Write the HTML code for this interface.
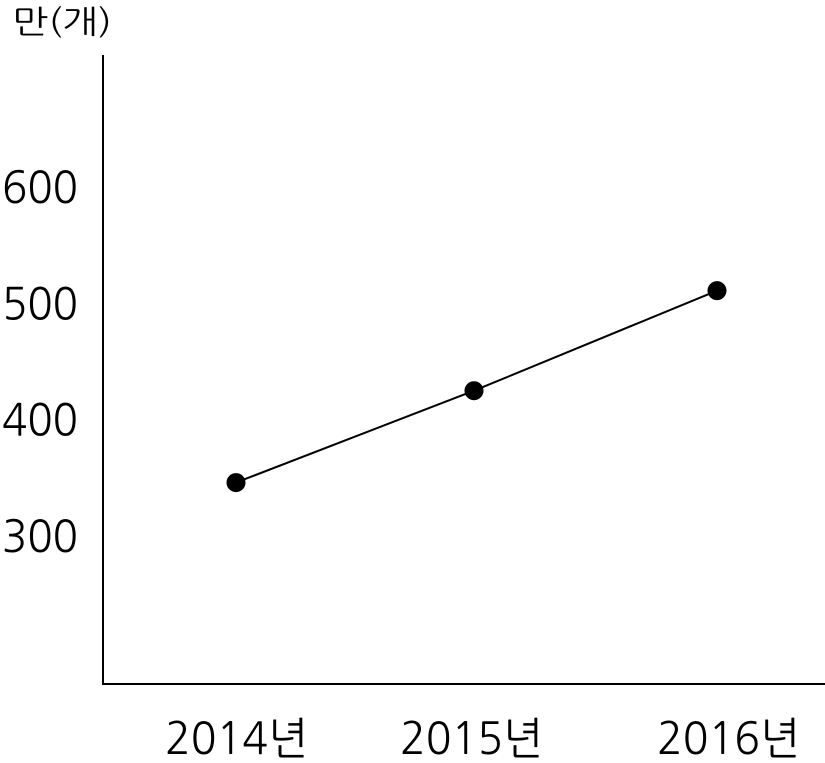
<!DOCTYPE html>
<html><head><meta charset="utf-8"><style>
html,body{margin:0;padding:0;background:#fff;}
svg text{font-family:"NanumGothic","Liberation Sans","Noto Sans CJK KR",sans-serif;fill:#000;}
</style></head><body>
<svg id="chart" width="825" height="758" viewBox="0 0 825 758" xmlns="http://www.w3.org/2000/svg">
<text x="12" y="33" font-size="32" textLength="100" lengthAdjust="spacingAndGlyphs">만(개)</text>
<line x1="103" y1="55" x2="103" y2="684" stroke="#000" stroke-width="2"/>
<line x1="102" y1="684" x2="825" y2="684" stroke="#000" stroke-width="2"/>
<g id="yticks"></g><g id="xticks"></g><g id="series"></g>
</svg>
<script>
const categories = ["2014년","2015년","2016년"];
const values = [345, 424, 510];
const yTicks = [300,400,500,600];
const xPos = i => [236,474,717][i];
const labelX = i => [165,400,657][i];
const yPos = v => 186 + (600 - v) * 1.163;
const NS = "http://www.w3.org/2000/svg";
const yt = document.getElementById('yticks');
yTicks.forEach(t => {
  const el = document.createElementNS(NS,'text');
  
  
  el.setAttribute('x', 2);
  el.setAttribute('y', yPos(t) + 17);
  el.setAttribute('font-size', '44');
  el.setAttribute('textLength', '76');
  el.setAttribute('lengthAdjust', 'spacingAndGlyphs');
  el.textContent = t;
  yt.appendChild(el);
});
const xt = document.getElementById('xticks');
categories.forEach((c,i) => {
  const el = document.createElementNS(NS,'text');
  
  
  el.setAttribute('x', labelX(i));
  el.setAttribute('y', 754);
  el.setAttribute('font-size', '44');
  el.setAttribute('textLength', '143');
  el.setAttribute('lengthAdjust', 'spacingAndGlyphs');
  el.textContent = c;
  xt.appendChild(el);
});
const s = document.getElementById('series');
const line = document.createElementNS(NS,'polyline');


line.setAttribute('points', values.map((v,i)=>xPos(i)+','+yPos(v)).join(' '));
line.setAttribute('fill','none');
line.setAttribute('stroke','#000');
line.setAttribute('stroke-width','2');
s.appendChild(line);
values.forEach((v,i) => {
  const c = document.createElementNS(NS,'circle');
  
  
  c.setAttribute('cx', xPos(i));
  c.setAttribute('cy', yPos(v));
  c.setAttribute('r', 9.5);
  c.setAttribute('fill','#000');
  s.appendChild(c);
});
</script>
</body></html>
